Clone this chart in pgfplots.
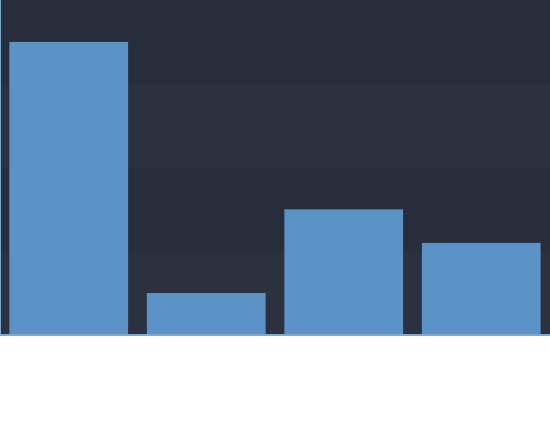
\documentclass[border=0pt]{standalone}
\usepackage{pgfplots}
\pgfplotsset{compat=1.18}
\definecolor{bgdark}{HTML}{272D3A}
\definecolor{bglight}{HTML}{2B313E}
\definecolor{barblue}{HTML}{5B93C7}
\begin{document}
\begin{tikzpicture}[x=1bp,y=1bp]
\path[use as bounding box] (0,-85) rectangle (550,335);
\begin{axis}[
  at={(0,0)}, anchor=south west,
  scale only axis, width=550bp, height=335bp,
  xmin=-0.5, xmax=3.5, ymin=0, ymax=40,
  axis background/.style={fill=bgdark},
  axis on top=true,
  axis x line*=bottom, axis y line*=left,
  axis line style={barblue!80!white, line width=1.5bp},
  xtick=\empty, ytick=\empty,
  ybar, bar width=0.865, bar shift=0pt,
  clip=false,
]
\fill[bglight] (axis cs:-0.5,0) rectangle (axis cs:3.5,10);
\fill[bglight] (axis cs:-0.5,20) rectangle (axis cs:3.5,30);
\addplot[fill=barblue, draw=none] coordinates {(0,35) (1,5) (2,15) (3,11)};
\end{axis}
\end{tikzpicture}
\end{document}
